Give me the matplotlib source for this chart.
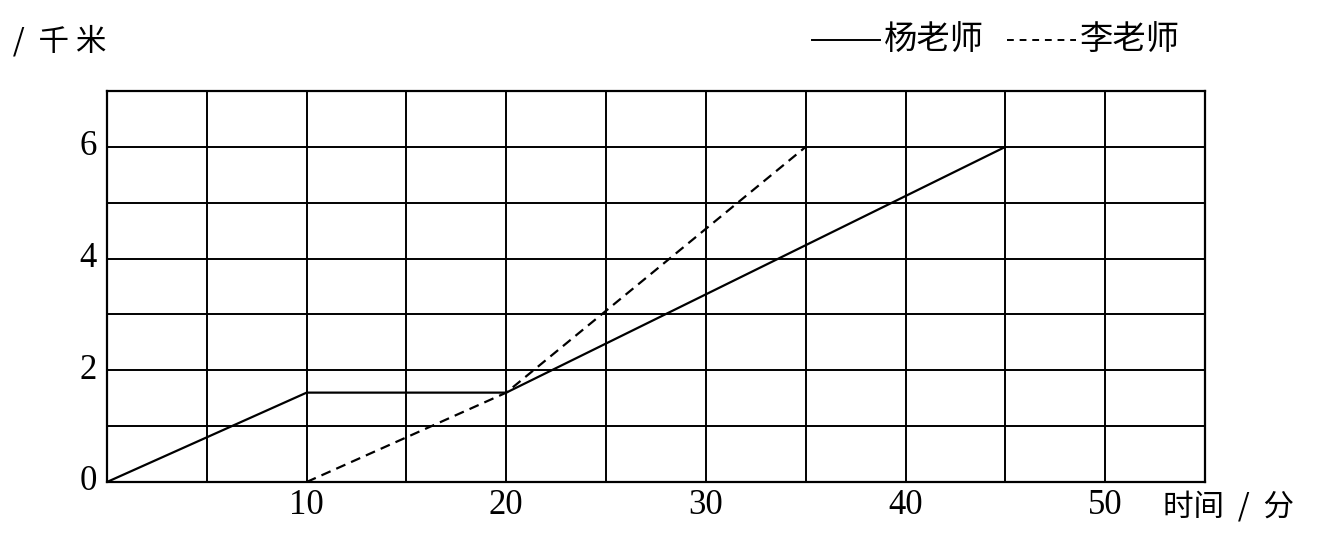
import matplotlib.pyplot as plt
from matplotlib.lines import Line2D

# 数据
yang_t = [0, 10, 20, 45]
yang_d = [0, 1.6, 1.6, 6]
li_t = [10, 20, 35]
li_d = [0, 1.6, 6]
x_ticks = [10, 20, 30, 40, 50]
y_ticks = [0, 2, 4, 6]

cjk = ['Noto Sans CJK SC', 'DejaVu Sans']
num = ['Liberation Serif']

fig = plt.figure(figsize=(13.41, 5.36), dpi=100)
ax = fig.add_axes([107/1341, 1 - 482/536, 1098/1341, 391/536])

ax.plot(yang_t, yang_d, color='black', lw=1.6, solid_capstyle='butt')
ax.plot(li_t, li_d, color='black', lw=1.6, linestyle=(0, (4.5, 2.8)))

ax.set_xlim(0, 55)
ax.set_ylim(0, 7)
ax.set_xticks(range(0, 56, 5))
ax.set_yticks(range(0, 8))
ax.grid(True, color='black', lw=1.4)
ax.set_axisbelow(True)
for s in ax.spines.values():
    s.set_linewidth(1.6)
ax.tick_params(length=0, labelbottom=False, labelleft=False)

for t in x_ticks:
    ax.text(t, -0.42, str(t), ha='center', va='center', fontsize=25, family=num)
for v in y_ticks:
    ax.text(-0.5, v, str(v), ha='right', va='center', fontsize=25, family=num)

ax.text(52.9, -0.45, '时间  /  分', ha='left', va='center', fontsize=22, family=cjk)
fig.text(106/1341, 1 - 42/536, '路程  /  千 米', ha='right', va='center', fontsize=22, family=cjk)

# 图例
ly = 1 - 40/536
fig.add_artist(Line2D([812/1341, 880/1341], [ly, ly], color='black', lw=1.4))
fig.text(884/1341, ly, '杨老师', ha='left', va='center', fontsize=24, family=cjk)
fig.add_artist(Line2D([1007/1341, 1076/1341], [ly, ly], color='black', lw=1.4,
                      linestyle=(0, (3.5, 3))))
fig.text(1080/1341, ly, '李老师', ha='left', va='center', fontsize=24, family=cjk)

fig.savefig('out.png', dpi=100)
